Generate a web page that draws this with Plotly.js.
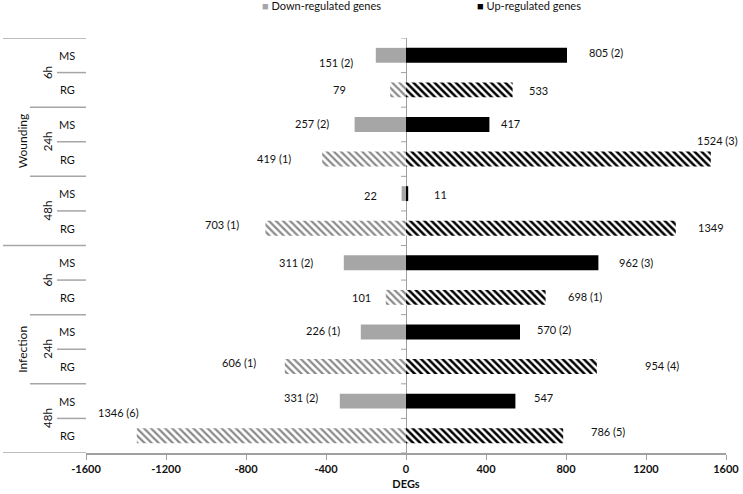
<!DOCTYPE html>
<html>
<head>
<meta charset="utf-8">
<script src="https://cdn.plot.ly/plotly-3.0.1.min.js"></script>
<style>
  html, body { margin: 0; padding: 0; background: #fff; }
  #chart { width: 743px; height: 494px; }
</style>
</head>
<body>
<div id="chart"></div>
<script>
// rows go treatment -> time -> method, top to bottom
const treatments = ['Wounding', 'Infection'];
const times = ['6h', '24h', '48h'];
const methods = ['MS', 'RG'];

const downValues = [151, 79, 257, 419, 22, 703, 311, 101, 226, 606, 331, 1346];
const upValues = [805, 533, 417, 1524, 11, 1349, 962, 698, 570, 954, 547, 786];
const downNotes = ['(2)', '', '(2)', '(1)', '', '(1)', '(2)', '', '(1)', '(1)', '(2)', '(6)'];
const upNotes = ['(2)', '', '', '(3)', '', '', '(3)', '(1)', '(2)', '(4)', '', '(5)'];

const xTicks = [-1600, -1200, -800, -400, 0, 400, 800, 1200, 1600];

// hand-placed label nudges (px) like in the original figure
const upGap = [20, 14, 10, -16, 24, 20, 19, 20, 15, 46, 17, 26];
const upLift = [3, -1, 1, 19, -1, 1, 0, 1, 2, 1, 4, 4];
const downGap = [21, 42, 24, 29, 23, 24, 29, 13, 19, 27, 20, -4];
const downLift = [-7, 0, 1, 1, -2, 4, 0, 0, 1, 4, 4, 23];

const font = 'Lato, "Open Sans", sans-serif';
const grey = '#a6a6a6';
const lineGrey = '#a0a0a0';

let rows = [];
treatments.forEach((t, ti) => {
    times.forEach((h, hi) => {
        methods.forEach((m, mi) => {
            rows.push({treat: t, time: h, method: m, idx: rows.length});
        });
    });
});

function pick(arr, method) {
    return rows.filter(r => r.method === method).map(r => arr[r.idx]);
}
function rowsOf(method) {
    return rows.filter(r => r.method === method).map(r => r.idx);
}

const barW = 0.43;

var downMS = {
    type: 'bar', orientation: 'h', name: 'Down-regulated genes',
    y: rowsOf('MS'), x: pick(downValues, 'MS').map(v => -v),
    width: barW, marker: {color: grey}, hoverinfo: 'skip'
};
var upMS = {
    type: 'bar', orientation: 'h', name: 'Up-regulated genes',
    y: rowsOf('MS'), x: pick(upValues, 'MS'),
    width: barW, marker: {color: '#000'}, hoverinfo: 'skip'
};
var downRG = {
    type: 'bar', orientation: 'h', name: 'Down RG',
    y: rowsOf('RG'), x: pick(downValues, 'RG').map(v => -v),
    width: barW, hoverinfo: 'skip',
    marker: {color: '#fff', pattern: {shape: '\\', fgcolor: '#8a8a8a', bgcolor: '#fff', size: 5, solidity: 0.45}}
};
var upRG = {
    type: 'bar', orientation: 'h', name: 'Up RG',
    y: rowsOf('RG'), x: pick(upValues, 'RG'),
    width: barW, hoverinfo: 'skip',
    marker: {color: '#fff', pattern: {shape: '\\', fgcolor: '#000', bgcolor: '#fff', size: 5, solidity: 0.5}}
};

var data = [downMS, upMS, downRG, upRG];

let annotations = [];
let shapes = [];

// value labels
rows.forEach(r => {
    let i = r.idx;
    annotations.push({
        x: upValues[i], y: i, xref: 'x', yref: 'y',
        text: upValues[i] + (upNotes[i] ? ' ' + upNotes[i] : ''),
        showarrow: false, xanchor: 'left', xshift: upGap[i], yshift: upLift[i],
        font: {family: font, size: 11, color: '#111'}
    });
    annotations.push({
        x: -downValues[i], y: i, xref: 'x', yref: 'y',
        text: downValues[i] + (downNotes[i] ? ' ' + downNotes[i] : ''),
        showarrow: false, xanchor: 'right', xshift: -downGap[i], yshift: downLift[i],
        font: {family: font, size: 11, color: '#111'}
    });
});

// hierarchical category labels on the left
const plotLeft = 86, plotWidth = 640;
function px(p) { return (p - plotLeft) / plotWidth; }

rows.forEach(r => {
    annotations.push({
        x: px(67), y: r.idx, xref: 'paper', yref: 'y', text: r.method,
        showarrow: false, xanchor: 'center', font: {family: font, size: 11, color: '#111'}
    });
});
treatments.forEach((t, ti) => {
    times.forEach((h, hi) => {
        let start = ti * times.length * methods.length + hi * methods.length;
        annotations.push({
            x: px(39), y: start + (methods.length - 1) / 2, xref: 'paper', yref: 'y', text: h,
            showarrow: false, textangle: -90, font: {family: font, size: 11.5, color: '#111'}
        });
    });
    let gStart = ti * times.length * methods.length;
    annotations.push({
        x: px(13), y: gStart + (times.length * methods.length - 1) / 2, xref: 'paper', yref: 'y', text: t,
        showarrow: false, textangle: -90, font: {family: font, size: 12, color: '#111'}
    });
});

// separator lines between the category levels
for (let b = 0; b <= rows.length; b++) {
    let left;
    if (b % (times.length * methods.length) === 0) left = 3;
    else if (b % methods.length === 0) left = 30;
    else left = 57;
    shapes.push({
        type: 'line', xref: 'paper', yref: 'y', x0: px(left), x1: 0, y0: b - 0.5, y1: b - 0.5,
        line: {color: grey, width: 1.5}
    });
    // small ticks on the zero line
    shapes.push({
        type: 'line', xref: 'x', yref: 'y', xsizemode: 'pixel', xanchor: 0, x0: -5, x1: 0,
        y0: b - 0.5, y1: b - 0.5, line: {color: lineGrey, width: 1}
    });
}

// legend drawn as text with square markers
annotations.push({
    x: px(260), y: 1, xref: 'paper', yref: 'paper', yanchor: 'bottom', xanchor: 'left', yshift: 24,
    text: '<span style="color:' + grey + '">■</span> Down-regulated genes',
    showarrow: false, font: {family: font, size: 11, color: '#111'}
});
annotations.push({
    x: px(475), y: 1, xref: 'paper', yref: 'paper', yanchor: 'bottom', xanchor: 'left', yshift: 24,
    text: '<span style="color:#000">■</span> Up-regulated genes',
    showarrow: false, font: {family: font, size: 11, color: '#111'}
});

var layout = {
    width: 743, height: 494,
    margin: {l: 86, r: 17, t: 38, b: 41},
    paper_bgcolor: '#fff', plot_bgcolor: '#fff',
    barmode: 'overlay',
    showlegend: false,
    font: {family: font, size: 11, color: '#111'},
    xaxis: {
        range: [-1600, 1600], tickvals: xTicks, ticktext: xTicks.map(String),
        showgrid: false, zeroline: true, zerolinecolor: lineGrey, zerolinewidth: 1,
        showline: true, linecolor: lineGrey, linewidth: 1.5,
        ticks: 'outside', ticklen: 5, tickcolor: lineGrey,
        tickfont: {family: font, size: 11, weight: 'bold', color: '#111'},
        title: {text: 'DEGs', font: {family: font, size: 11, weight: 'bold', color: '#111'}, standoff: 6},
        fixedrange: true
    },
    yaxis: {
        range: [rows.length - 0.5, -0.5],
        showticklabels: false, showgrid: false, zeroline: false, showline: false,
        fixedrange: true
    },
    annotations: annotations,
    shapes: shapes
};

Plotly.newPlot('chart', data, layout, {displayModeBar: false, staticPlot: true});
</script>
</body>
</html>
